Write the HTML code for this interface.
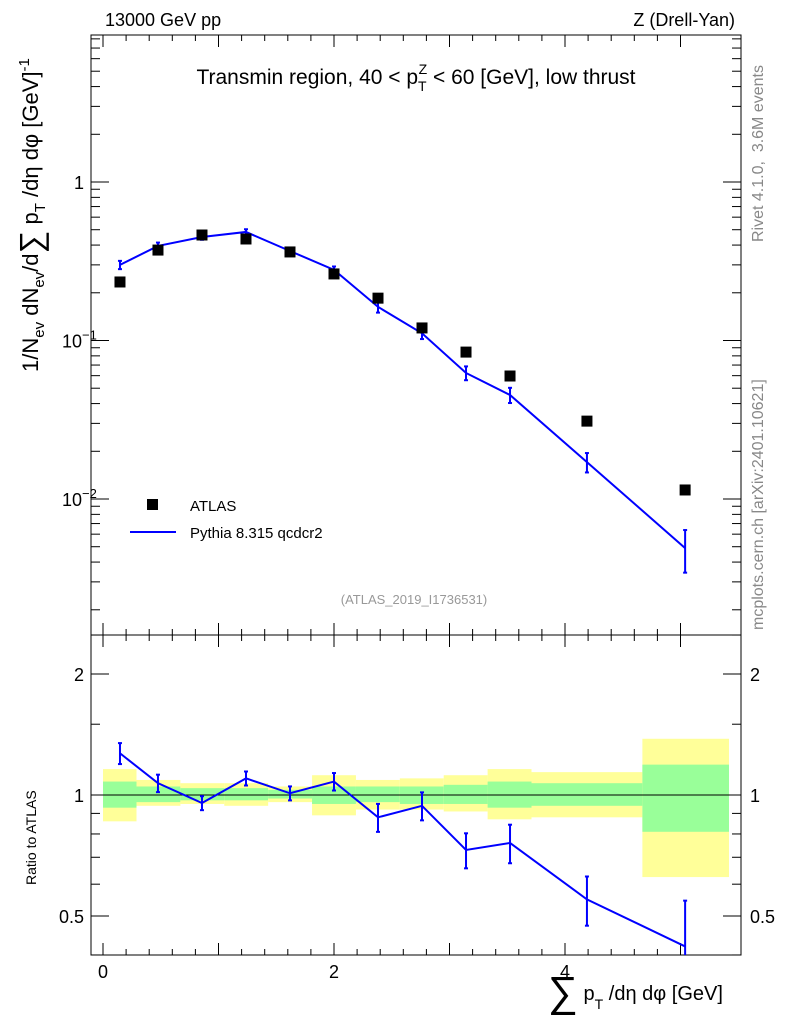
<!DOCTYPE html>
<html><head><meta charset="utf-8"><style>
body{margin:0;background:#fff}
svg{font-family:"Liberation Sans",sans-serif}
</style></head><body>
<svg id="c" width="786" height="1024" viewBox="0 0 786 1024" xmlns="http://www.w3.org/2000/svg">
<defs><clipPath id="rc"><rect x="91" y="635" width="650" height="320"/></clipPath></defs>
<g id="bands"></g>
<g id="frames">
<rect x="91" y="35" width="650" height="600" fill="none" stroke="#000" stroke-width="1"/>
<rect x="91" y="635" width="650" height="320" fill="none" stroke="#000" stroke-width="1"/>
<line x1="91" x2="741" y1="795" y2="795" stroke="#000"/>
</g>
<g id="ticks"></g>
<g id="marks"></g>
<g id="rmarks" clip-path="url(#rc)"></g>
<text x="105" y="26" font-size="18">13000 GeV pp</text>
<text x="735" y="26" font-size="18" text-anchor="end">Z (Drell-Yan)</text>
<text x="416" y="84" font-size="21" text-anchor="middle">Transmin region, 40 &lt; p<tspan font-size="14" dy="7">T</tspan><tspan font-size="14" dx="-8" dy="-17">Z</tspan><tspan dy="10"> &lt; 60 [GeV], low thrust</tspan></text>
<text x="414" y="604" font-size="13" fill="#999" text-anchor="middle">(ATLAS_2019_I1736531)</text>
<text transform="translate(763,242) rotate(-90)" font-size="16" fill="#888">Rivet 4.1.0, &#160;3.6M events</text>
<text transform="translate(763,630) rotate(-90)" font-size="16" fill="#888">mcplots.cern.ch [arXiv:2401.10621]</text>
<text transform="translate(38,372) rotate(-90)" font-size="22">1/N<tspan font-size="15" dy="6">ev</tspan><tspan dy="-6"> dN</tspan><tspan font-size="15" dy="6">ev</tspan><tspan dy="-6">/d</tspan><tspan font-size="32" dy="4">∑</tspan><tspan dy="-4"> p</tspan><tspan font-size="15" dy="7">T</tspan><tspan dy="-7"> /dη dφ  [GeV]</tspan><tspan font-size="15" dy="-9">-1</tspan></text>
<text transform="translate(36,885) rotate(-90)" font-size="14">Ratio to ATLAS</text>
<text x="548" y="1000" font-size="20"><tspan font-size="42" dy="6">∑</tspan><tspan dy="-6"> p</tspan><tspan font-size="14" dy="9">T</tspan><tspan dy="-9"> /dη dφ [GeV]</tspan></text>
<g>
<rect x="147" y="499" width="11" height="11" fill="#000"/>
<text x="190" y="511" font-size="15">ATLAS</text>
<line x1="130" x2="176" y1="532" y2="532" stroke="#00f" stroke-width="2"/>
<text x="190" y="538" font-size="15">Pythia 8.315 qcdcr2</text>
</g>
</svg>
<script>
const binEdges=[0,0.29,0.67,1.05,1.43,1.81,2.19,2.57,2.95,3.33,3.71,4.67,5.42];
const binCenters=[0.147,0.476,0.857,1.238,1.619,2.0,2.381,2.762,3.143,3.524,4.19,5.04];
const atlasValues=[0.234,0.372,0.463,0.437,0.362,0.263,0.185,0.120,0.0845,0.0597,0.031,0.0114];
const pythiaValues=[0.30,0.395,0.45,0.484,0.367,0.279,0.163,0.111,0.0624,0.0453,0.0171,0.0049];
const pythiaRelErr=[0.06,0.05,0.04,0.04,0.04,0.05,0.08,0.08,0.10,0.11,0.14,0.30];
const ratioValues=[1.27,1.07,0.955,1.10,1.01,1.08,0.88,0.94,0.73,0.76,0.55,0.42];
const yellowLo=[0.86,0.94,0.95,0.94,0.96,0.89,0.92,0.92,0.91,0.87,0.88,0.625];
const yellowHi=[1.16,1.09,1.07,1.07,1.05,1.12,1.09,1.10,1.12,1.16,1.14,1.38];
const greenLo=[0.93,0.96,0.97,0.97,0.98,0.95,0.96,0.95,0.95,0.93,0.94,0.81];
const greenHi=[1.08,1.05,1.04,1.04,1.03,1.05,1.05,1.05,1.06,1.08,1.07,1.19];
const xTicks=[0,1,2,3,4,5];const xTickLabels=["0","","2","","4",""];
const yTicks=[0.01,0.1,1];const yTickLabels=["10","10","1"];const yTickExp=["−2","−1",""];
const rTicks=[0.5,1,2];const rTickLabels=["0.5","1","2"];

const X=v=>103+v*115.5;
const Y=v=>182-Math.log10(v)*158.5;
const R=v=>795-Math.log10(v)*402;
const NS="http://www.w3.org/2000/svg";
function mk(p,t,a){const e=document.createElementNS(NS,t);for(const k in a)e.setAttribute(k,a[k]);p.appendChild(e);return e;}
const bands=document.getElementById('bands'),ticks=document.getElementById('ticks'),marks=document.getElementById('marks'),rmarks=document.getElementById('rmarks');
for(let i=0;i<binCenters.length;i++){
 const x0=X(binEdges[i]),x1=X(binEdges[i+1]);
 const y=mk(bands,'rect',{x:x0,y:R(yellowHi[i]),width:x1-x0,height:R(yellowLo[i])-R(yellowHi[i]),fill:'#ffff99'});
 
 
 const g=mk(bands,'rect',{x:x0,y:R(greenHi[i]),width:x1-x0,height:R(greenLo[i])-R(greenHi[i]),fill:'#99ff99'});
 
 
}
xTicks.forEach((t,i)=>{
 [[635,12],[955,12]].forEach(([b,l])=>{const e=mk(ticks,'line',{x1:X(t),x2:X(t),y1:b,y2:b-l,stroke:'#000'});
 
 });
 [[35],[635]].forEach(([b])=>{mk(ticks,'line',{x1:X(t),x2:X(t),y1:b,y2:b+12,stroke:'#000'});});
 if(xTickLabels[i]){const e=mk(ticks,'text',{x:X(t),y:978,'font-size':18,'text-anchor':'middle'});e.textContent=xTickLabels[i];
 
 }
 if(t<5)for(let k=1;k<5;k++){const xv=X(t+k*0.2);if(xv<741){mk(ticks,'line',{x1:xv,x2:xv,y1:635,y2:629,stroke:'#000'});mk(ticks,'line',{x1:xv,x2:xv,y1:955,y2:949,stroke:'#000'});mk(ticks,'line',{x1:xv,x2:xv,y1:35,y2:41,stroke:'#000'});mk(ticks,'line',{x1:xv,x2:xv,y1:635,y2:641,stroke:'#000'});}}
});
for(let d=-3;d<=0;d++)for(let m=1;m<10;m++){const v=m*Math.pow(10,d);const y=Y(v);if(y<35||y>635)continue;const L=m==1?18:9;
 mk(ticks,'line',{x1:91,x2:91+L,y1:y,y2:y,stroke:'#000'});mk(ticks,'line',{x1:741,x2:741-L,y1:y,y2:y,stroke:'#000'});}
yTicks.forEach((t,i)=>{const e=mk(ticks,'text',{x:yTickExp[i]?62:84,y:Y(t)+7,'font-size':18,'text-anchor':yTickExp[i]?'start':'end'});
 e.textContent=yTickLabels[i];
 
 
 if(yTickExp[i]){const s=mk(e,'tspan',{'font-size':13,dy:-8});s.textContent=yTickExp[i];}});
[0.4,0.5,0.6,0.7,0.8,0.9,1,1.5,2,2.5].forEach(v=>{const y=R(v);const L=[0.5,1,2].includes(v)?18:9;
 mk(ticks,'line',{x1:91,x2:91+L,y1:y,y2:y,stroke:'#000'});mk(ticks,'line',{x1:741,x2:741-L,y1:y,y2:y,stroke:'#000'});});
rTicks.forEach((t,i)=>{[[84,'end'],[750,'start']].forEach(([x,a])=>{const e=mk(ticks,'text',{x:x,y:R(t)+7,'font-size':18,'text-anchor':a});e.textContent=rTickLabels[i];
 
 });});
const pl=mk(marks,'polyline',{points:binCenters.map((c,i)=>X(c)+','+Y(pythiaValues[i])).join(' '),fill:'none',stroke:'#00f','stroke-width':2});


binCenters.forEach((c,i)=>{const v=pythiaValues[i],e=pythiaRelErr[i];
 const el=mk(marks,'line',{x1:X(c),x2:X(c),y1:Y(v*(1+e)),y2:Y(v*(1-e)),stroke:'#00f','stroke-width':2});
 
 
 [Y(v*(1+e)),Y(v*(1-e))].forEach(yy=>mk(marks,'line',{x1:X(c)-2,x2:X(c)+2,y1:yy,y2:yy,stroke:'#00f','stroke-width':2}));
 const s=mk(marks,'rect',{x:X(c)-5.5,y:Y(atlasValues[i])-5.5,width:11,height:11,fill:'#000'});
 
 
 const r=ratioValues[i];
 const re=mk(rmarks,'line',{x1:X(c),x2:X(c),y1:R(r*(1+e)),y2:R(r*(1-e)),stroke:'#00f','stroke-width':2});
 
 
 [R(r*(1+e)),R(r*(1-e))].forEach(yy=>mk(rmarks,'line',{x1:X(c)-2,x2:X(c)+2,y1:yy,y2:yy,stroke:'#00f','stroke-width':2}));
});
const rl=mk(rmarks,'polyline',{points:binCenters.map((c,i)=>X(c)+','+R(ratioValues[i])).join(' '),fill:'none',stroke:'#00f','stroke-width':2});


</script>
</body></html>
